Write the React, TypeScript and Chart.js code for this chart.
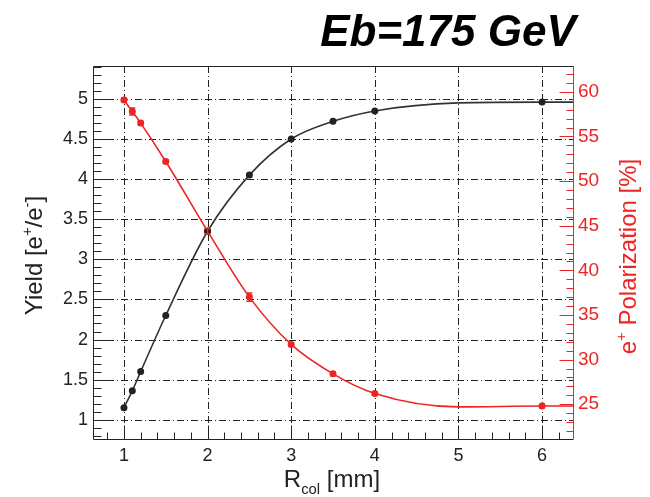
import React, { useEffect, useRef } from "react";
import { Chart, registerables } from "chart.js";

Chart.register(...registerables);

// ---- data ----
const rCol = [1, 1.1, 1.2, 1.5, 2, 2.5, 3, 3.5, 4, 6];
const yieldValues = [1.15, 1.36, 1.6, 2.3, 3.35, 4.05, 4.5, 4.72, 4.85, 4.96];
const polValues = [59.1, 57.8, 56.5, 52.2, 44.4, 37.0, 31.7, 28.4, 26.2, 24.8];
const polErrors = [0.2, 0.4, 0.2, 0.2, 0.3, 0.45, 0.2, 0.2, 0.2, 0.2];
const fitX = [1, 1.1, 1.2, 1.5, 2, 2.5, 3, 3.5, 4, 5, 6, 6.37];
const yieldFit = [1.15, 1.36, 1.6, 2.3, 3.35, 4.05, 4.5, 4.72, 4.85, 4.95, 4.96, 4.96];
const polFit = [59.1, 57.8, 56.5, 52.2, 44.4, 37.0, 31.7, 28.4, 26.2, 24.7, 24.8, 24.8];

const titleText = "Eb=175 GeV";
const FONT = "'Liberation Sans', Arial, sans-serif";
const RED = "#ee2424";
const BLACK = "#222222";

type Part = { t: string; s?: number };

function drawRich(ctx: CanvasRenderingContext2D, parts: Part[], size: number, color: string) {
  // draws centered at (0,0) baseline
  const widths = parts.map((p) => {
    const fs = p.s ? size * 0.62 : size;
    ctx.font = `${fs}px ${FONT}`;
    return ctx.measureText(p.t).width;
  });
  const total = widths.reduce((a, b) => a + b, 0);
  let x = -total / 2;
  ctx.fillStyle = color;
  ctx.textBaseline = "alphabetic";
  ctx.textAlign = "left";
  parts.forEach((p, i) => {
    const fs = p.s ? size * 0.62 : size;
    ctx.font = `${fs}px ${FONT}`;
    let dy = 0;
    if (p.s === 1) dy = -size * 0.42;
    if (p.s === -1) dy = size * 0.28;
    ctx.fillText(p.t, x, dy);
    x += widths[i];
  });
}

const framePlugin = {
  id: "rootFrame",
  beforeDatasetsDraw(chart: any) {
    const { ctx, chartArea: a, scales } = chart;
    const xs = scales.x;
    const ys = scales.y;
    ctx.save();
    ctx.strokeStyle = BLACK;
    ctx.lineWidth = 1;
    ctx.setLineDash([7, 3, 1, 3]);
    xs.ticks.forEach((t: any) => {
      const px = Math.round(xs.getPixelForValue(t.value)) + 0.5;
      ctx.beginPath();
      ctx.moveTo(px, a.top);
      ctx.lineTo(px, a.bottom);
      ctx.stroke();
    });
    ys.ticks.forEach((t: any) => {
      const py = Math.round(ys.getPixelForValue(t.value)) + 0.5;
      ctx.beginPath();
      ctx.moveTo(a.left, py);
      ctx.lineTo(a.right, py);
      ctx.stroke();
    });
    ctx.restore();
  },
  afterDatasetsDraw(chart: any) {
    const { ctx, chartArea: a, scales } = chart;
    const xs = scales.x;
    const ys = scales.y;
    const y2 = scales.y2;
    ctx.save();
    // error bars on polarization points
    ctx.strokeStyle = RED;
    ctx.lineWidth = 1.5;
    rCol.forEach((xv, i) => {
      const px = xs.getPixelForValue(xv);
      const p1 = y2.getPixelForValue(polValues[i] + polErrors[i]);
      const p2 = y2.getPixelForValue(polValues[i] - polErrors[i]);
      ctx.beginPath();
      ctx.moveTo(px, p1);
      ctx.lineTo(px, p2);
      ctx.moveTo(px - 3, p1);
      ctx.lineTo(px + 3, p1);
      ctx.moveTo(px - 3, p2);
      ctx.lineTo(px + 3, p2);
      ctx.stroke();
    });

    ctx.lineWidth = 1;
    const L = Math.round(a.left) + 0.5;
    const R = Math.round(a.right) + 0.5;
    const T = Math.round(a.top) + 0.5;
    const B = Math.round(a.bottom) + 0.5;
    // frame
    ctx.strokeStyle = BLACK;
    ctx.beginPath();
    ctx.moveTo(R, T);
    ctx.lineTo(L, T);
    ctx.lineTo(L, B);
    ctx.lineTo(R, B);
    ctx.stroke();

    // left ticks
    ctx.beginPath();
    for (let k = 8; k <= 54; k++) {
      const v = k / 10;
      const py = Math.round(ys.getPixelForValue(v)) + 0.5;
      if (py < a.top || py > a.bottom) continue;
      const len = k % 5 === 0 ? 15 : 8;
      ctx.moveTo(L, py);
      ctx.lineTo(L + len, py);
    }
    // bottom ticks
    for (let k = 4; k <= 31; k++) {
      const v = k / 5;
      const px = Math.round(xs.getPixelForValue(v)) + 0.5;
      if (px < a.left || px > a.right) continue;
      const len = k % 5 === 0 ? 14 : 7;
      ctx.moveTo(px, B);
      ctx.lineTo(px, B - len);
    }
    ctx.stroke();

    // right axis (red)
    ctx.strokeStyle = RED;
    ctx.beginPath();
    ctx.moveTo(R, a.top);
    ctx.lineTo(R, a.bottom);
    for (let v = 22; v <= 62; v++) {
      const py = Math.round(y2.getPixelForValue(v)) + 0.5;
      if (py < a.top || py > a.bottom) continue;
      const len = v % 5 === 0 ? 14 : 7;
      ctx.moveTo(R, py);
      ctx.lineTo(R - len, py);
    }
    ctx.stroke();

    // axis titles
    ctx.save();
    ctx.translate(42, (a.top + a.bottom) / 2 + 3);
    ctx.rotate(-Math.PI / 2);
    drawRich(ctx, [{ t: "Yield [e" }, { t: "+", s: 1 }, { t: "/e" }, { t: "-", s: 1 }, { t: "]" }], 24, BLACK);
    ctx.restore();

    ctx.save();
    ctx.translate(636, (a.top + a.bottom) / 2 + 4);
    ctx.rotate(-Math.PI / 2);
    drawRich(ctx, [{ t: "e" }, { t: "+", s: 1 }, { t: " Polarization [%]" }], 24, RED);
    ctx.restore();

    ctx.save();
    ctx.translate(332, 487);
    drawRich(ctx, [{ t: "R" }, { t: "col", s: -1 }, { t: " [mm]" }], 24, BLACK);
    ctx.restore();

    // title
    ctx.fillStyle = "#000";
    ctx.font = `italic bold 44px ${FONT}`;
    ctx.textAlign = "center";
    ctx.textBaseline = "alphabetic";
    ctx.fillText(titleText, 448, 46);
    ctx.restore();
  },
};

export default function App() {
  const ref = useRef<HTMLCanvasElement | null>(null);
  useEffect(() => {
    if (!ref.current) return;
    const chart = new Chart(ref.current, {
      type: "line",
      data: {
        datasets: [
          {
            label: "yield points",
            data: rCol.map((x, i) => ({ x, y: yieldValues[i] })),
            yAxisID: "y",
            showLine: false,
            pointRadius: 3.5,
            pointBackgroundColor: BLACK,
            pointBorderColor: BLACK,
            pointBorderWidth: 0,
          },
          {
            label: "polarization points",
            data: rCol.map((x, i) => ({ x, y: polValues[i] })),
            yAxisID: "y2",
            showLine: false,
            pointRadius: 3.5,
            pointBackgroundColor: RED,
            pointBorderColor: RED,
            pointBorderWidth: 0,
          },
          {
            label: "yield fit",
            data: fitX.map((x, i) => ({ x, y: yieldFit[i] })),
            yAxisID: "y",
            borderColor: "#333333",
            borderWidth: 1.6,
            pointRadius: 0,
            cubicInterpolationMode: "monotone",
            fill: false,
          },
          {
            label: "polarization fit",
            data: fitX.map((x, i) => ({ x, y: polFit[i] })),
            yAxisID: "y2",
            borderColor: RED,
            borderWidth: 1.6,
            pointRadius: 0,
            cubicInterpolationMode: "monotone",
            fill: false,
          },
        ],
      },
      options: {
        animation: false,
        responsive: true,
        maintainAspectRatio: false,
        layout: { padding: { top: 66, left: 0, right: 0, bottom: 0 } },
        plugins: { legend: { display: false }, tooltip: { enabled: false }, title: { display: false } },
        scales: {
          x: {
            type: "linear",
            min: 0.63,
            max: 6.37,
            grid: { display: false, drawTicks: false },
            border: { display: false },
            ticks: {
              stepSize: 1,
              includeBounds: false,
              padding: 6,
              color: BLACK,
              font: { family: FONT, size: 18 },
              maxRotation: 0,
            },
            afterFit: (s: any) => {
              s.height = 58;
            },
          },
          y: {
            type: "linear",
            position: "left",
            min: 0.76,
            max: 5.41,
            grid: { display: false, drawTicks: false },
            border: { display: false },
            ticks: {
              stepSize: 0.5,
              includeBounds: false,
              padding: 5,
              color: BLACK,
              font: { family: FONT, size: 18 },
              callback: (v: any) => String(Number(v)),
            },
            afterFit: (s: any) => {
              s.width = 93;
            },
          },
          y2: {
            type: "linear",
            position: "right",
            min: 21.1,
            max: 62.9,
            grid: { display: false, drawTicks: false },
            border: { display: false },
            ticks: {
              stepSize: 5,
              includeBounds: false,
              padding: 5,
              color: RED,
              font: { family: FONT, size: 19 },
            },
            afterFit: (s: any) => {
              s.width = 77;
            },
          },
        },
      },
      plugins: [framePlugin],
    } as any);
    return () => chart.destroy();
  }, []);
  return (
    <div style={{ position: "fixed", left: 0, top: 0, width: 650, height: 497, background: "#fff" }}>
      <canvas ref={ref} />
    </div>
  );
}
